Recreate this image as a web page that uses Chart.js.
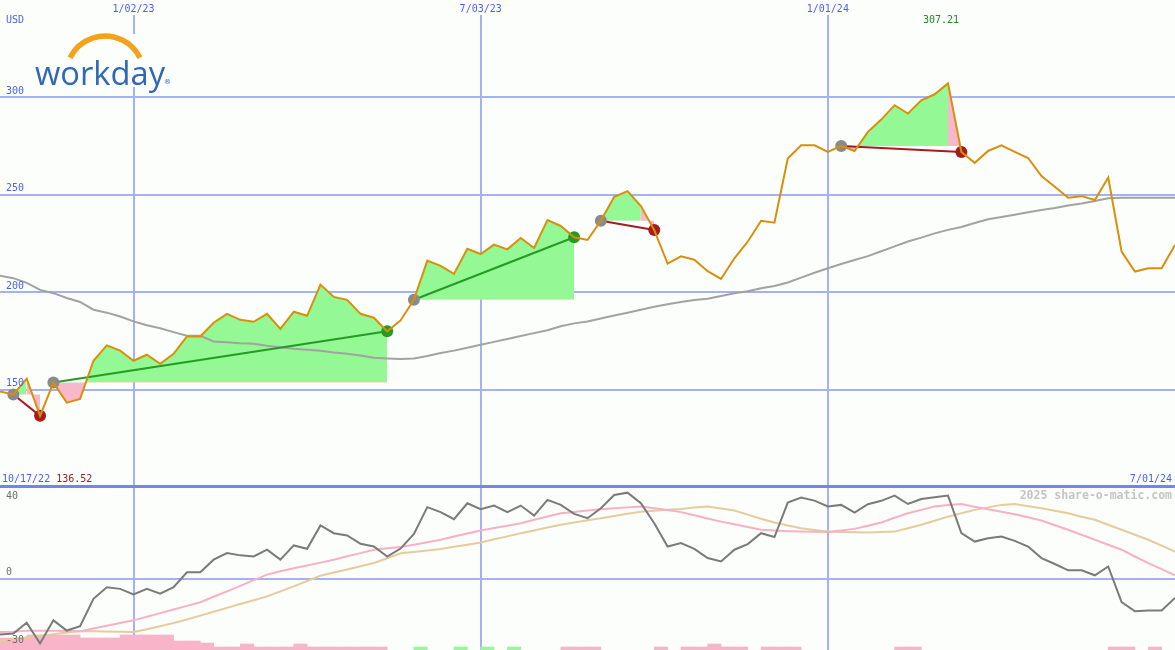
<!DOCTYPE html>
<html>
<head>
<meta charset="utf-8">
<script src="https://cdn.jsdelivr.net/npm/chart.js@4.4.1/dist/chart.umd.min.js"></script>
<style>
  body { margin: 0; background: #fcfefc; }
  #wrap { position: relative; width: 1175px; height: 650px; }
  #top { position: absolute; left: 0; top: 0; width: 1175px; height: 487px; }
  #bot { position: absolute; left: 0; top: 487px; width: 1175px; height: 163px; }
</style>
</head>
<body>
<div id="wrap">
  <div id="top"><canvas id="priceChart"></canvas></div>
  <div id="bot"><canvas id="oscChart"></canvas></div>
</div>
<script>
// weekly closes, 10/17/22 .. 7/01/24
var price = [149.0,147.5,155.6,136.52,153.6,143.3,145.2,164.8,172.7,170.0,
  164.8,167.9,163.2,168.4,177.3,177.3,184.3,188.9,185.8,184.8,
  188.9,181.2,190.0,187.9,203.9,197.6,196.1,188.9,186.9,179.9,
  185.5,196.1,216.2,213.5,209.4,222.3,219.6,224.4,222.0,227.8,
  222.7,237.0,234.0,228.2,226.8,236.7,249.0,251.9,244.2,231.9,
  214.7,218.4,216.7,210.8,206.8,217.4,225.9,236.7,235.7,268.6,
  275.4,275.4,272.0,275.1,272.5,282.3,288.6,296.0,291.7,298.5,
  301.6,307.21,272.0,266.4,272.5,275.4,272.0,268.9,259.6,254.1,
  248.5,249.3,247.3,258.9,220.8,210.6,212.3,212.3,224.2];

var movingAvg = [208.4,207.2,204.8,201.2,199.5,197.0,195.0,191.0,189.5,187.5,
  185.0,183.0,181.5,179.5,177.6,177.6,174.7,174.3,173.8,173.5,
  172.5,171.8,171.0,170.5,170.0,169.0,168.4,167.5,166.4,166.0,
  165.7,166.0,167.3,168.8,170.0,171.5,173.0,174.5,176.0,177.5,
  179.0,180.5,182.5,184.0,185.0,186.5,188.0,189.5,191.0,192.5,
  193.8,195.0,196.0,196.6,198.0,199.5,200.5,202.0,203.2,205.0,
  207.5,210.0,212.3,214.5,216.5,218.5,221.0,223.5,226.0,228.0,
  230.2,232.0,233.5,235.5,237.4,238.6,239.8,241.0,242.2,243.2,
  244.5,245.5,246.8,248.2,248.5,248.5,248.5,248.5,248.5];

// trades: entry week, exit week
var tradeEntry = [1, 4, 31, 45, 63];
var tradeExit  = [3, 29, 43, 49, 72];

// lower panel
var momentum = [-24.7,-24.2,-19.5,-28.6,-18.4,-22.9,-21.0,-8.9,-3.8,-4.5,
  -7.0,-4.5,-6.6,-3.7,2.8,2.8,8.4,11.3,10.3,9.8,
  12.8,8.4,14.7,13.2,23.5,20.1,19.1,15.4,14.2,9.8,
  13.3,19.8,31.6,29.4,26.3,33.3,30.7,32.3,29.4,32.3,
  27.9,34.8,32.6,28.6,26.7,31.1,37.0,38.0,33.3,24.5,
  14.2,15.7,13.2,9.1,7.6,12.8,15.3,20.1,18.4,33.6,
  35.8,34.5,31.9,32.6,29.2,32.9,34.4,36.7,33.0,35.2,
  36.0,36.7,20.1,16.4,17.9,18.6,16.7,14.2,9.1,6.5,
  3.7,3.7,1.5,5.4,-10.3,-14.4,-14.0,-14.0,-8.5];

var signalFast = [-23.6,-23.4,-23.0,-23.0,-23.0,-23.1,-23.2,-22.0,-20.8,-19.6,
  -18.4,-16.8,-15.2,-13.6,-12.0,-10.4,-8.0,-5.6,-3.2,-0.6,
  1.8,3.3,4.6,5.8,7.1,8.4,9.9,11.3,12.8,13.4,
  14.0,15.0,16.1,17.2,18.6,20.0,21.3,22.4,23.4,24.5,
  26.0,27.5,28.9,29.5,30.1,30.7,31.1,31.5,31.9,31.1,
  30.3,29.4,28.0,26.6,25.2,24.0,22.8,21.6,21.3,21.0,
  20.8,20.7,20.6,21.3,22.0,23.4,24.8,26.9,28.9,30.4,
  31.9,32.5,33.0,31.8,30.7,29.6,28.5,27.1,25.7,23.6,
  21.6,19.4,17.2,15.0,12.8,9.8,6.9,4.2,1.5];

var signalSlow = [-27.6,-26.8,-26.0,-25.2,-24.5,-23.8,-23.2,-23.2,-23.3,-23.4,
  -23.5,-22.3,-21.0,-19.6,-18.0,-16.3,-14.6,-12.9,-11.2,-9.5,
  -7.8,-5.6,-3.4,-1.0,1.3,2.7,4.1,5.5,6.9,9.0,
  11.2,11.8,12.5,13.1,14.1,15.0,16.0,17.4,18.7,20.1,
  21.3,22.6,23.8,24.8,25.8,26.7,27.7,28.7,29.6,30.0,
  30.4,30.8,31.4,31.9,31.0,30.1,28.3,26.5,24.8,23.5,
  22.3,21.5,20.8,20.6,20.5,20.4,20.6,20.8,22.3,23.8,
  25.6,27.4,28.9,30.4,31.5,32.6,33.0,32.0,31.1,30.0,
  28.9,27.4,26.0,23.8,21.6,19.4,17.2,14.6,12.0];

var barDown = [12,12,15,15,15,15,12,12,12,15,
  15,15,15,9,9,7,3,3,6,3,
  3,3,6,3,3,3,3,3,3,null,
  null,null,null,null,null,null,null,null,null,null,
  null,null,3,3,3,null,null,null,null,3,
  null,3,3,6,3,3,null,3,3,3,
  null,null,null,null,null,null,null,3,3,null,
  null,null,null,null,null,null,null,null,null,null,
  null,null,null,3,3,null,3,null];
var barUp = [];
for (var i = 0; i < 88; i++) barUp.push(null);
[31, 34, 36, 38].forEach(function (k) { barUp[k] = 3; });

// axes
var gridWeeks = [10, 36, 62];
var gridLabels = ['1/02/23', '7/03/23', '1/01/24'];
var priceTicks = [150, 200, 250, 300];
var oscTicks = [40, 0, -30];
var startLabel = '10/17/22';
var endLabel = '7/01/24';

var bg = '#fcfefc';
var gridColor = '#a4b2f2';
var green = '#259b25', red = '#a51c1c', gray = '#8a8a8a';
var fillUp = '#94f894', fillDown = '#f8b8cc';

function pts(arr, from, to) {
  var out = [];
  for (var i = from; i <= to; i++) out.push({ x: i, y: arr[i] });
  return out;
}

var datasets = [];
datasets.push({ data: pts(price, 0, price.length - 1), borderColor: '#d98f0a', borderWidth: 2, pointRadius: 0, order: 0 });
datasets.push({ data: pts(movingAvg, 0, movingAvg.length - 1), borderColor: '#a2a2a2', borderWidth: 2, pointRadius: 0, order: 2 });

tradeEntry.forEach(function (e, k) {
  var x = tradeExit[k];
  var win = price[x] > price[e];
  var lvl = price[e];
  datasets.push({
    data: [{ x: e, y: price[e] }, { x: x, y: price[x] }],
    borderColor: win ? green : red, borderWidth: 2,
    pointRadius: 6, pointBorderWidth: 0,
    pointBackgroundColor: [gray, win ? green : red], order: 1
  });
  var lastUp = win ? x : x - 1;
  datasets.push({
    data: pts(price, e, lastUp), borderColor: 'transparent', borderWidth: 0, pointRadius: 0,
    fill: { target: { value: lvl }, above: fillUp, below: fillDown }, order: 3
  });
  if (!win) {
    datasets.push({
      data: pts(price, x - 1, x), borderColor: 'transparent', borderWidth: 0, pointRadius: 0,
      fill: { target: { value: lvl }, above: fillDown, below: fillDown }, order: 3
    });
  }
});

var topLabels = {
  id: 'topLabels',
  afterDraw: function (chart) {
    var ctx = chart.ctx, xs = chart.scales.x, ys = chart.scales.y;
    ctx.save();
    ctx.fillStyle = '#7384ec';
    ctx.fillRect(0, 485, chart.width, 2);
    ctx.font = '10px "DejaVu Sans Mono"';
    ctx.textBaseline = 'middle';
    // date labels on top
    ctx.textAlign = 'center';
    gridWeeks.forEach(function (w, k) {
      var px = xs.getPixelForValue(w);
      var tw = ctx.measureText(gridLabels[k]).width;
      ctx.fillStyle = bg;
      ctx.fillRect(px - tw / 2 - 1, 0, tw + 2, 15);
      ctx.fillStyle = '#4e5ef0';
      ctx.fillText(gridLabels[k], px, 9);
    });
    ctx.textAlign = 'left';
    ctx.fillText('USD', 6, 20);
    priceTicks.forEach(function (v) {
      ctx.fillText(String(v), 6, ys.getPixelForValue(v) - 6);
    });
    ctx.fillText(startLabel, 2, 479);
    var sw = ctx.measureText(startLabel + ' ').width;
    var minIdx = price.indexOf(Math.min.apply(null, price));
    ctx.fillStyle = red;
    ctx.fillText(price[minIdx].toFixed(2), 2 + sw, 479);
    ctx.fillStyle = '#4e5ef0';
    ctx.textAlign = 'right';
    ctx.fillText(endLabel, 1172, 479);
    var maxIdx = price.indexOf(Math.max.apply(null, price));
    ctx.textAlign = 'center';
    ctx.fillStyle = '#1f8a1f';
    ctx.fillText(price[maxIdx].toFixed(2), xs.getPixelForValue(maxIdx) - 7, 20);
    // logo
    ctx.fillStyle = bg;
    ctx.fillRect(30, 34, 142, 53);
    ctx.strokeStyle = '#f4a21c';
    ctx.lineWidth = 5.5;
    ctx.beginPath();
    ctx.arc(105, 75, 39, Math.PI + 0.46, 2 * Math.PI - 0.46);
    ctx.stroke();
    ctx.fillStyle = '#3068b4';
    ctx.textAlign = 'left';
    ctx.textBaseline = 'alphabetic';
    ctx.font = '33px "Open Sans"';
    var lw = ctx.measureText('workday').width;
    var fs = 33 * 130 / lw;
    ctx.font = fs.toFixed(1) + 'px "Open Sans"';
    ctx.fillText('workday', 35, 85);
    ctx.font = '7px "DejaVu Sans"';
    ctx.fillText('®', 164, 84);
    ctx.restore();
  }
};

new Chart(document.getElementById('priceChart'), {
  type: 'line',
  data: { datasets: datasets },
  options: {
    responsive: true, maintainAspectRatio: false, animation: false,
    layout: { padding: 0, autoPadding: false },
    plugins: { legend: { display: false }, tooltip: { enabled: false } },
    elements: { line: { tension: 0 } },
    scales: {
      x: {
        type: 'linear', min: 0, max: 88,
        afterBuildTicks: function (s) { s.ticks = gridWeeks.map(function (v) { return { value: v }; }); },
        ticks: { display: false }, grid: { color: gridColor, lineWidth: 2, drawTicks: false }, border: { display: false }
      },
      y: {
        min: 100, max: 350,
        afterBuildTicks: function (s) { s.ticks = priceTicks.map(function (v) { return { value: v }; }); },
        ticks: { display: false }, grid: { color: gridColor, lineWidth: 2, drawTicks: false }, border: { display: false }
      }
    }
  },
  plugins: [topLabels]
});

var botLabels = {
  id: 'botLabels',
  afterDraw: function (chart) {
    var ctx = chart.ctx, ys = chart.scales.y;
    ctx.save();
    ctx.fillStyle = '#7384ec';
    ctx.fillRect(0, 0, chart.width, 1);
    ctx.font = '10px "DejaVu Sans Mono"';
    ctx.textBaseline = 'middle';
    ctx.textAlign = 'left';
    ctx.fillStyle = '#6e6e6e';
    ctx.fillText(String(oscTicks[0]), 6, 9);
    ctx.fillText(String(oscTicks[1]), 6, ys.getPixelForValue(oscTicks[1]) - 6);
    ctx.fillText(String(oscTicks[2]), 6, ys.getPixelForValue(oscTicks[2]) - 6);
    ctx.font = 'bold 11.5px "DejaVu Sans Mono"';
    ctx.fillStyle = '#c4c4c4';
    ctx.textAlign = 'right';
    ctx.fillText('2025 share-o-matic.com', 1172, 9);
    ctx.restore();
  }
};

function barPts(arr) {
  return arr.map(function (v, i) { return { x: i + 0.5, y: v }; });
}

new Chart(document.getElementById('oscChart'), {
  type: 'line',
  data: {
    datasets: [
      { data: pts(momentum, 0, momentum.length - 1), borderColor: '#7a7a7a', borderWidth: 2, pointRadius: 0, order: 1 },
      { data: pts(signalFast, 0, signalFast.length - 1), borderColor: '#f8b0c8', borderWidth: 2, pointRadius: 0, order: 2 },
      { data: pts(signalSlow, 0, signalSlow.length - 1), borderColor: '#e4cc9c', borderWidth: 2, pointRadius: 0, order: 3 },
      { type: 'bar', data: barPts(barDown), yAxisID: 'yv', backgroundColor: '#f8b4c8', barPercentage: 1, categoryPercentage: 1, grouped: false, order: 5 },
      { type: 'bar', data: barPts(barUp), yAxisID: 'yv', backgroundColor: '#98f898', barPercentage: 1, categoryPercentage: 1, grouped: false, order: 5 }
    ]
  },
  options: {
    responsive: true, maintainAspectRatio: false, animation: false,
    layout: { padding: 0, autoPadding: false },
    plugins: { legend: { display: false }, tooltip: { enabled: false } },
    elements: { line: { tension: 0 } },
    scales: {
      x: {
        type: 'linear', min: 0, max: 88, offset: false,
        afterBuildTicks: function (s) { s.ticks = gridWeeks.map(function (v) { return { value: v }; }); },
        ticks: { display: false }, grid: { color: gridColor, lineWidth: 2, drawTicks: false, offset: false }, border: { display: false }
      },
      y: {
        min: -31.5, max: 40.5,
        afterBuildTicks: function (s) { s.ticks = [{ value: 0 }]; },
        ticks: { display: false }, grid: { color: gridColor, lineWidth: 2, drawTicks: false }, border: { display: false }
      },
      yv: { display: false, min: 0, max: 163 }
    }
  },
  plugins: [botLabels]
});
</script>
</body>
</html>
